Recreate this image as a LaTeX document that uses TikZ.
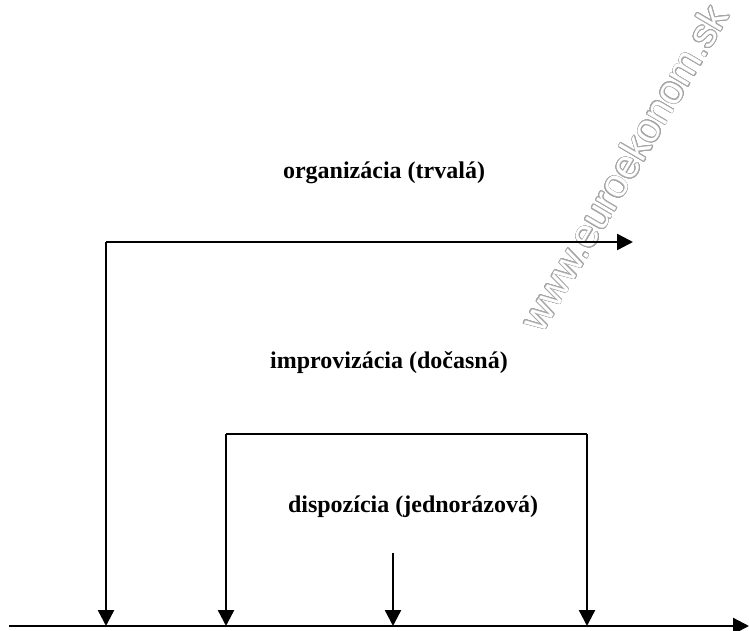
\documentclass[tikz,border=0pt]{standalone}
\usepackage{fontspec}
\setmainfont{Liberation Serif}
\newfontfamily\wmfont{Liberation Sans}
\usepackage{contour}
\contourlength{0.35pt}
\contournumber{32}
\usetikzlibrary{arrows.meta, positioning}
\tikzstyle{lbl}=[inner sep=0pt, font=\bfseries\fontsize{12}{14}\selectfont]
\tikzstyle{wire}=[line width=1.2pt]
\tikzstyle{flow}=[wire, -{Triangle[length=8pt, width=8pt]}]

\begin{document}
\begin{tikzpicture}[x=0.5pt, y=-0.5pt]
\useasboundingbox (0,0) rectangle (749,631);
% the watermark
\node[rotate=59.5, inner sep=0pt] (wm) at (624,168)
  {\wmfont\fontsize{20}{24}\selectfont\contour{gray!70}{\color{white}www.euroekonom.sk}};
% the three labels
\node[lbl] (org) at (384,173) {organizácia (trvalá)};
\node[lbl] (imp) at (389,363) {improvizácia (dočasná)};
\node[lbl] (dis) at (413,507) {dispozícia (jednorázová)};
% the corners of the brackets
\coordinate (orgC) at (106,242);
\coordinate (orgE) at (633,242);
\coordinate (impL) at (226,434);
\coordinate (impR) at (587,434);
\coordinate (disT) at (393,553);
% the points on the axis
\coordinate (ax0) at (9,626);
\coordinate (ax1) at (749,626);
\coordinate (orgB) at (106,626);
\coordinate (impLB) at (226,626);
\coordinate (impRB) at (587,626);
\coordinate (disB) at (393,626);
% the axis and the arrows
\draw[flow] (ax0) -- (ax1);
\draw[flow] (orgC) -- (orgE);
\draw[flow] (orgC) -- (orgB);
\draw[wire] (impL) -- (impR);
\draw[flow] (impL) -- (impLB);
\draw[flow] (impR) -- (impRB);
\draw[flow] (disT) -- (disB);
\end{tikzpicture}
\end{document}
